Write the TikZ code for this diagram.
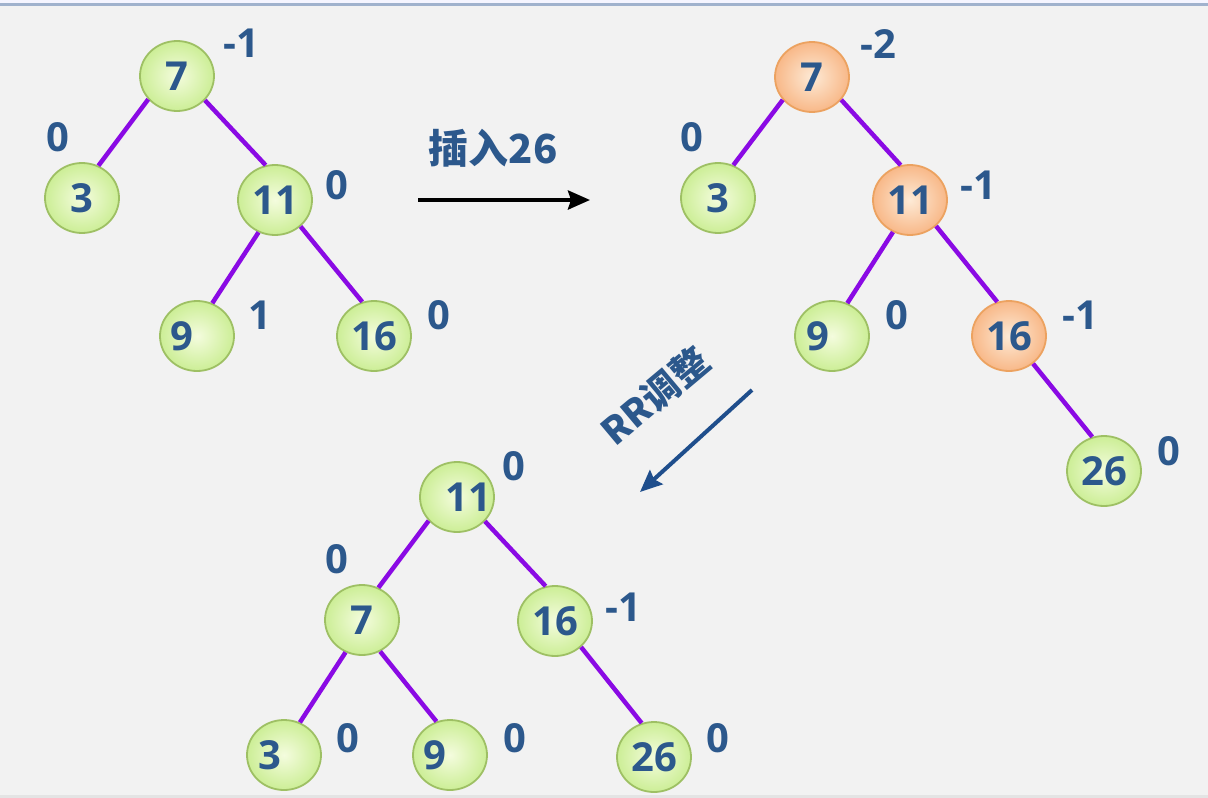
\documentclass[tikz,border=0pt]{standalone}
\usepackage{fontspec}
\setmainfont{Open Sans}
\newfontfamily\cjk{Noto Sans CJK SC}
\usetikzlibrary{shapes.geometric,arrows.meta}
\definecolor{bg}{RGB}{242,242,242}
\definecolor{topline}{RGB}{160,178,205}
\definecolor{botband}{RGB}{228,228,228}
\definecolor{numblue}{RGB}{44,88,140}
\definecolor{arrblue}{RGB}{31,78,140}
\definecolor{purp}{RGB}{138,10,228}
\definecolor{ginner}{RGB}{244,252,222}
\definecolor{gouter}{RGB}{204,238,150}
\definecolor{gborder}{RGB}{158,192,100}
\definecolor{oinner}{RGB}{253,234,214}
\definecolor{oouter}{RGB}{248,184,136}
\definecolor{oborder}{RGB}{236,162,96}
\newcommand{\offtxt}[2]{\makebox[0pt]{\hspace*{#1}#2}}
\begin{document}
\begin{tikzpicture}[x=1pt,y=-1pt,
  gnode/.style={ellipse, minimum width=74pt, minimum height=70pt, inner sep=0pt,
    draw=gborder, line width=1.8pt, inner color=ginner, outer color=gouter,
    text=numblue, font=\bfseries\fontsize{40}{42}\selectfont},
  onode/.style={gnode, draw=oborder, inner color=oinner, outer color=oouter},
  bal/.style={text=numblue, inner sep=0pt, font=\bfseries\fontsize{40}{42}\selectfont},
  cjklabel/.style={text=numblue, inner sep=0pt, font=\cjk\bfseries\fontsize{40}{42}\selectfont},
  edge/.style={draw=purp, line width=4.5pt},
  bigarrow/.style={line width=4pt, -{Stealth[length=22pt,width=19pt,inset=3pt]}}
]
\useasboundingbox (0,0) rectangle (1208,798);
\fill[bg] (0,0) rectangle (1208,798);
\fill[white!96!blue] (0,0) rectangle (1208,3);
\fill[topline] (0,3) rectangle (1208,6);
\fill[botband] (0,795) rectangle (1208,798);

% Tree 1
\node[gnode] (a7) at (177,76) {7};
\node[gnode] (a3) at (82,198) {3};
\node[gnode] (a11) at (275,200) {11};
\node[gnode] (a9) at (197,336) {\offtxt{-30pt}{9}};
\node[gnode] (a16) at (374,336) {16};
\draw[edge] (a7.-141) -- (a3.63);
\draw[edge] (a7.-41) -- (a11.105);
\draw[edge] (a11.-117) -- (a9.65);
\draw[edge] (a11.-46) -- (a16.109);
\node[bal] (la7) at (241,43) {-1};
\node[bal] (la3) at (58,137) {0};
\node[bal] (la11) at (337,185) {0};
\node[bal] (la9) at (260,315) {1};
\node[bal] (la16) at (439,315) {0};

% arrow 1
\node[cjklabel] (t1) at (493,148) {插入26};
\coordinate (p1) at (418,200);
\coordinate (p2) at (590,200);
\draw[bigarrow, black] (p1) -- (p2);

% Tree 2
\node[onode] (b7) at (812,77) {7};
\node[gnode] (b3) at (718,198) {3};
\node[onode] (b11) at (910,200) {11};
\node[gnode] (b9) at (832,336) {\offtxt{-28pt}{9}};
\node[onode] (b16) at (1009,336) {16};
\node[gnode] (b26) at (1104,471) {26};
\draw[edge] (b7.-142) -- (b3.65);
\draw[edge] (b7.-38) -- (b11.105);
\draw[edge] (b11.-118) -- (b9.65);
\draw[edge] (b11.-45) -- (b16.109);
\draw[edge] (b16.-49) -- (b26.109);
\node[bal] (lb7) at (878,44) {-2};
\node[bal] (lb3) at (692,137) {0};
\node[bal] (lb11) at (978,185) {-1};
\node[bal] (lb9) at (897,315) {0};
\node[bal] (lb16) at (1080,315) {-1};
\node[bal] (lb26) at (1169,451) {0};

% arrow 2
\node[cjklabel, rotate=40, font=\cjk\bfseries\fontsize{37}{40}\selectfont] (t2) at (655,396) {RR调整};
\coordinate (q1) at (752,390);
\coordinate (q2) at (640,492);
\draw[bigarrow, arrblue] (q1) -- (q2);

% Tree 3
\node[gnode] (c11) at (457,497) {\offtxt{22pt}{11}};
\node[gnode] (c7) at (362,620) {7};
\node[gnode] (c16) at (555,621) {16};
\node[gnode] (c3) at (284,755) {\offtxt{-28pt}{3}};
\node[gnode] (c9) at (450,755) {\offtxt{-30pt}{9}};
\node[gnode] (c26) at (654,757) {26};
\draw[edge] (c11.-140) -- (c7.63);
\draw[edge] (c11.-41) -- (c16.105);
\draw[edge] (c7.-117) -- (c3.64);
\draw[edge] (c7.-60) -- (c9.112);
\draw[edge] (c16.-45) -- (c26.110);
\node[bal] (lc11) at (514,466) {0};
\node[bal] (lc7) at (337,559) {0};
\node[bal] (lc16) at (623,607) {-1};
\node[bal] (lc3) at (348,738) {0};
\node[bal] (lc9) at (515,738) {0};
\node[bal] (lc26) at (718,738) {0};
\end{tikzpicture}
\end{document}
